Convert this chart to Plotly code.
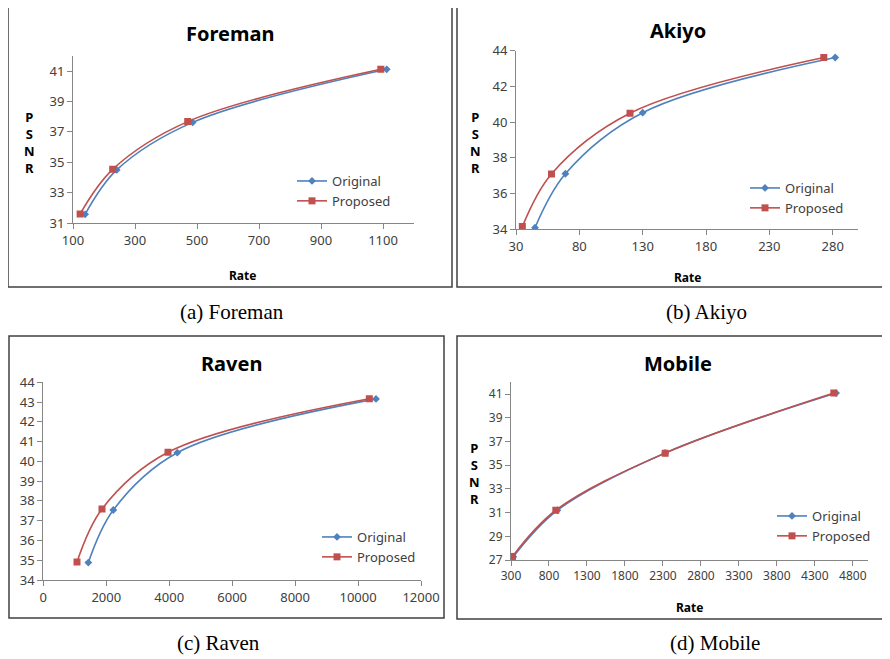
import plotly.graph_objects as go

W, H = 890, 659
OFF = 8  # page body margin of the browser

# ---------------- data ----------------
foreman_orig_rate = [139, 241, 486, 1112]
foreman_orig_psnr = [31.57, 34.49, 37.62, 41.11]
foreman_prop_rate = [123, 228, 470, 1093]
foreman_prop_psnr = [31.60, 34.53, 37.67, 41.11]

akiyo_orig_rate = [45, 69, 130, 282]
akiyo_orig_psnr = [34.09, 37.11, 40.53, 43.62]
akiyo_prop_rate = [35, 58, 120, 273]
akiyo_prop_psnr = [34.15, 37.10, 40.50, 43.62]

raven_orig_rate = [1430, 2224, 4257, 10570]
raven_orig_psnr = [34.88, 37.54, 40.44, 43.16]
raven_prop_rate = [1071, 1865, 3962, 10358]
raven_prop_psnr = [34.91, 37.59, 40.46, 43.17]

mobile_orig_rate = [330, 910, 2330, 4580]
mobile_orig_psnr = [27.28, 31.20, 36.04, 41.09]
mobile_prop_rate = [320, 890, 2330, 4550]
mobile_prop_psnr = [27.30, 31.20, 36.02, 41.10]

titles = ["Foreman", "Akiyo", "Raven", "Mobile"]
captions = ["(a) Foreman", "(b) Akiyo", "(c) Raven", "(d) Mobile"]
series_names = ["Original", "Proposed"]

BLUE = "#4F81BD"
RED = "#C0504D"

def px(x):
    return (x - OFF) / W

def py(y):
    return 1 - (y - OFF) / H

fig = go.Figure()

panels = [
    dict(o=(foreman_orig_rate, foreman_orig_psnr), p=(foreman_prop_rate, foreman_prop_psnr),
         xd=(73, 414), yd=(55.8, 223), xr=(100, 1200), xt0=100, xdt=200, yr=(31, 42), yt0=31, ydt=2,
         title=(230, 34), cap=(232, 312), psnr=(29, 142), rate=(243, 275), leg=(292, 166), tick=13),
    dict(o=(akiyo_orig_rate, akiyo_orig_psnr), p=(akiyo_prop_rate, akiyo_prop_psnr),
         xd=(516, 858), yd=(50.7, 229.3), xr=(30, 300), xt0=30, xdt=50, yr=(34, 44), yt0=34, ydt=2,
         title=(678, 31), cap=(706, 312), psnr=(475, 142), rate=(687, 277), leg=(745, 173), tick=13),
    dict(o=(raven_orig_rate, raven_orig_psnr), p=(raven_prop_rate, raven_prop_psnr),
         xd=(43.3, 421), yd=(382.3, 580), xr=(0, 12000), xt0=0, xdt=2000, yr=(34, 44), yt0=34, ydt=1,
         title=(231, 363), cap=(218, 643), psnr=None, rate=None, leg=(317, 522), tick=13),
    dict(o=(mobile_orig_rate, mobile_orig_psnr), p=(mobile_prop_rate, mobile_prop_psnr),
         xd=(511, 868), yd=(382.3, 560), xr=(300, 5000), xt0=300, xdt=500, yr=(27, 42), yt0=27, ydt=2,
         title=(678, 363), cap=(715, 643), psnr=(474, 473), rate=(689, 607), leg=(772, 501), tick=12),
]

borders = [(8, 5, 452, 287), (457, 4, 888, 287), (9, 336, 444, 618), (457, 336, 888, 619)]

annotations = []
shapes = []
for i, pnl in enumerate(panels):
    k = "" if i == 0 else str(i + 1)
    legname = "legend" if i == 0 else f"legend{i+1}"
    for (xs, ys), name, col, sym, sz in [(pnl["o"], "Original", BLUE, "diamond", 6),
                                          (pnl["p"], "Proposed", RED, "square", 7)]:
        fig.add_trace(go.Scatter(
            x=xs, y=ys, name=name, mode="lines+markers",
            line=dict(color=col, width=1.6, shape="spline", smoothing=1.0),
            marker=dict(symbol=sym, size=sz, color=col),
            xaxis="x" + k, yaxis="y" + k, legend=legname,
        ))
    axcommon = dict(showgrid=False, zeroline=False, showline=True, linecolor="#868686", linewidth=1,
                    ticks="outside", ticklen=5, tickcolor="#868686", tickformat="d", automargin=False,
                    tickfont=dict(family="Noto Sans, Open Sans, sans-serif", size=pnl["tick"], color="#404040"))
    fig.update_layout(**{
        "xaxis" + k: dict(domain=[px(pnl["xd"][0]), px(pnl["xd"][1])], range=list(pnl["xr"]),
                          tick0=pnl["xt0"], dtick=pnl["xdt"], anchor="y" + k, **axcommon),
        "yaxis" + k: dict(domain=[py(pnl["yd"][1]), py(pnl["yd"][0])], range=list(pnl["yr"]),
                          tick0=pnl["yt0"], dtick=pnl["ydt"], anchor="x" + k, **axcommon),
        legname: dict(x=px(pnl["leg"][0]), y=py(pnl["leg"][1]), xanchor="left", yanchor="top",
                      bgcolor="rgba(0,0,0,0)", tracegroupgap=0,
                      font=dict(family="Noto Sans, Open Sans, sans-serif", size=13, color="#404040")),
    })
    annotations.append(dict(text="<b>%s</b>" % titles[i], x=px(pnl["title"][0]), y=py(pnl["title"][1]),
                            xref="paper", yref="paper", showarrow=False, xanchor="center", yanchor="middle",
                            font=dict(family="Noto Sans, sans-serif", size=20, color="#000000")))
    annotations.append(dict(text=captions[i], x=px(pnl["cap"][0]), y=py(pnl["cap"][1]),
                            xref="paper", yref="paper", showarrow=False, xanchor="center", yanchor="middle",
                            font=dict(family="Liberation Serif, Times New Roman, serif", size=21, color="#000000")))
    if pnl["psnr"]:
        annotations.append(dict(text="<b>P<br>S<br>N<br>R</b>", x=px(pnl["psnr"][0]), y=py(pnl["psnr"][1]),
                                xref="paper", yref="paper", showarrow=False, xanchor="center", yanchor="middle",
                                font=dict(family="Noto Sans, sans-serif", size=13, color="#000000")))
    if pnl["rate"]:
        annotations.append(dict(text="<b>Rate</b>", x=px(pnl["rate"][0]), y=py(pnl["rate"][1]),
                                xref="paper", yref="paper", showarrow=False, xanchor="center", yanchor="middle",
                                font=dict(family="Noto Sans, sans-serif", size=12, color="#000000")))
    x0, y0, x1, y1 = borders[i]
    shapes.append(dict(type="rect", xref="paper", yref="paper", x0=px(x0), x1=px(x1), y0=py(y1), y1=py(y0),
                       line=dict(color="#404040", width=1.5), fillcolor="rgba(0,0,0,0)"))

fig.update_layout(width=W, height=H, margin=dict(l=0, r=0, t=0, b=0, autoexpand=False),
                  paper_bgcolor="white", plot_bgcolor="white",
                  annotations=annotations, shapes=shapes, showlegend=True)

fig.write_html("out.html")
